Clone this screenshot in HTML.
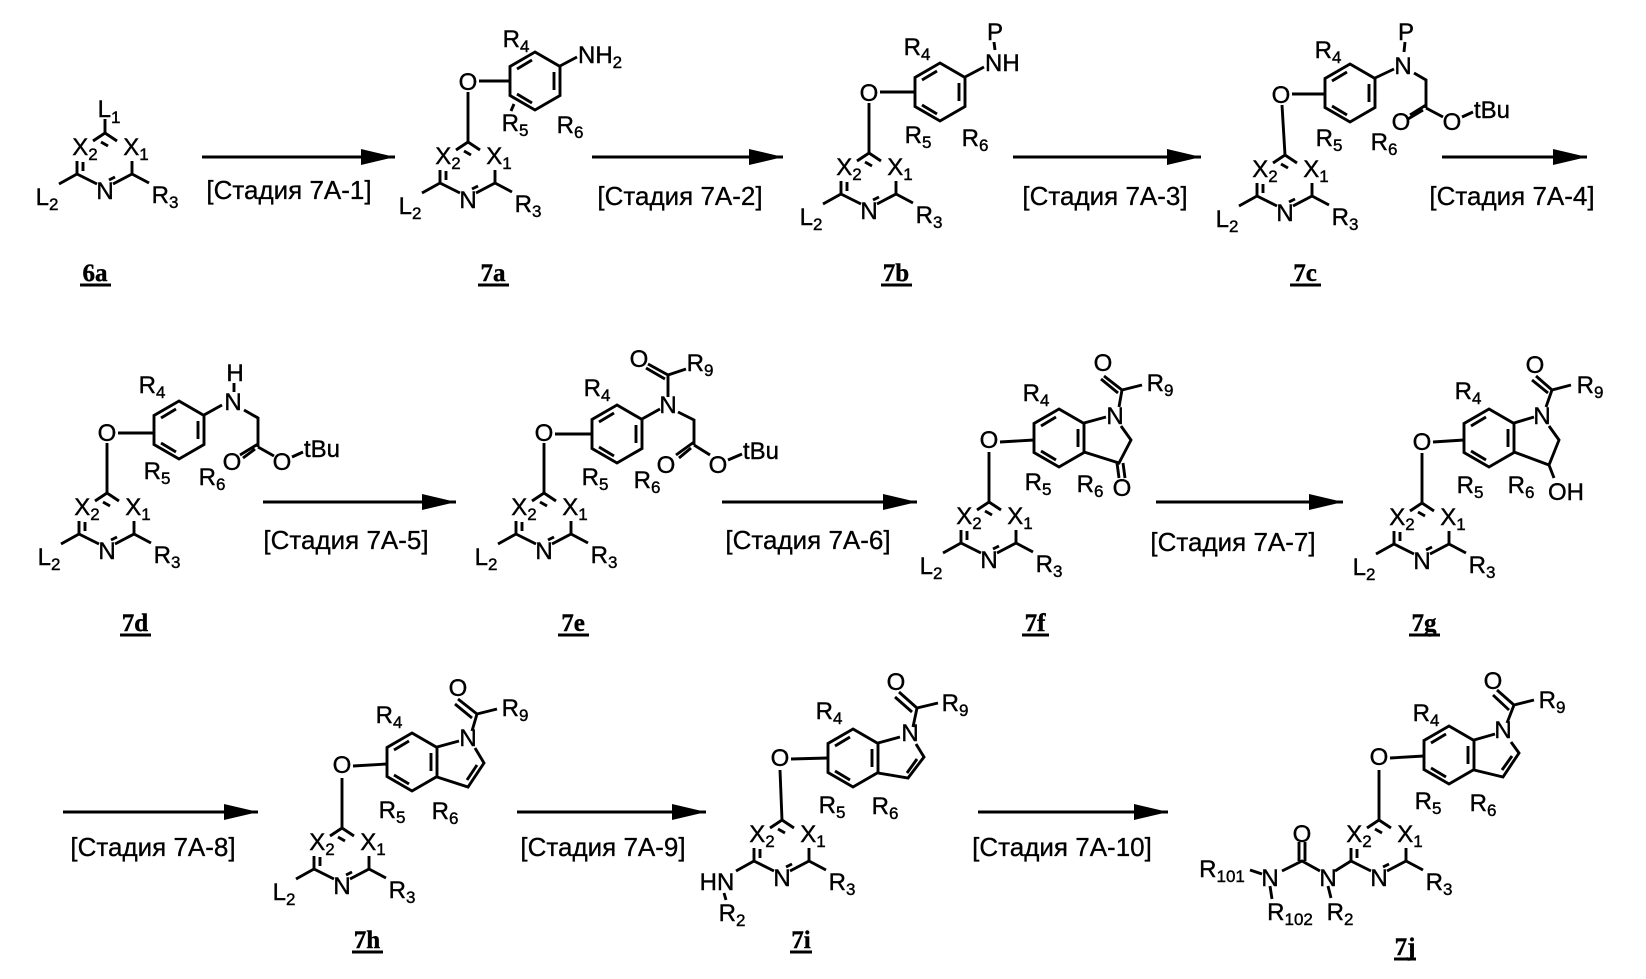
<!DOCTYPE html>
<html><head><meta charset="utf-8"><style>
html,body{margin:0;padding:0;background:#fff}
svg{display:block}
text{font-family:"Liberation Sans",Arial,sans-serif;font-size:24px;fill:#000;stroke:#000;stroke-width:0.4px}
tspan{font-size:17px}
.st{font-size:26px;stroke-width:0.3px}
.cl{font-family:"Liberation Serif",serif;font-weight:bold;font-size:25px}
.a{text-anchor:middle}
path,line{stroke-width:2.9px}
</style></head><body>
<svg width="1646" height="979" viewBox="0 0 1646 979" xmlns="http://www.w3.org/2000/svg">
<defs>
<g id="pyr" fill="none" stroke="#000" stroke-width="2.4">
<path d="M-12,8 L0,0 L12,8 M-28,28 L-28,41 L-8,51 M8,51 L27,41 L27,28 M-4,9 L3,13 M-22,29 L-22,38 M4,47 L10,44"/>
</g>
<g id="pyrL" fill="none" stroke="#000" stroke-width="2.4"><path d="M-28,41 L-46,51 M27,41 L44,50"/></g>
<g id="bz" fill="none" stroke="#000" stroke-width="2.4">
<path d="M0,-29 L25,-14.5 L25,14.5 L0,29 L-25,14.5 L-25,-14.5 Z M19,-9 L19,9 M-3,22 L-18,13 M-18,-12 L-3,-21"/>
</g>
<g id="arr"><line x1="0" y1="0" x2="-30" y2="0" stroke="#000" stroke-width="2.6"/><path d="M0,0 L-34,-8 L-34,8 Z" fill="#000"/></g>
</defs>

<!-- arrows -->
<g stroke="#000" stroke-width="2.6">
<line x1="202" y1="157" x2="370" y2="157"/><line x1="592" y1="157" x2="760" y2="157"/>
<line x1="1013" y1="157" x2="1175" y2="157"/><line x1="1442" y1="157" x2="1560" y2="157"/>
<line x1="263" y1="502" x2="430" y2="502"/><line x1="722" y1="502" x2="892" y2="502"/>
<line x1="1156" y1="502" x2="1318" y2="502"/>
<line x1="63" y1="812" x2="232" y2="812"/><line x1="517" y1="812" x2="680" y2="812"/>
<line x1="978" y1="812" x2="1142" y2="812"/>
</g>
<use href="#arr" x="395" y="157"/><use href="#arr" x="783" y="157"/><use href="#arr" x="1201" y="157"/><use href="#arr" x="1587" y="157"/>
<use href="#arr" x="456" y="502"/><use href="#arr" x="917" y="502"/><use href="#arr" x="1343" y="502"/>
<use href="#arr" x="258" y="812"/><use href="#arr" x="706" y="812"/><use href="#arr" x="1168" y="812"/>

<text class="st a" x="289" y="199">[Стадия 7A-1]</text>
<text class="st a" x="680" y="205">[Стадия 7A-2]</text>
<text class="st a" x="1105" y="205">[Стадия 7A-3]</text>
<text class="st a" x="1512" y="205">[Стадия 7A-4]</text>
<text class="st a" x="346" y="549">[Стадия 7A-5]</text>
<text class="st a" x="808" y="549">[Стадия 7A-6]</text>
<text class="st a" x="1233" y="551">[Стадия 7A-7]</text>
<text class="st a" x="153" y="856">[Стадия 7A-8]</text>
<text class="st a" x="603" y="856">[Стадия 7A-9]</text>
<text class="st a" x="1062" y="856">[Стадия 7A-10]</text>

<!-- compound labels -->
<g class="cl">
<text class="cl a" x="95" y="281">6a</text><text class="cl a" x="493" y="281">7a</text>
<text class="cl a" x="896" y="281">7b</text><text class="cl a" x="1305" y="281">7c</text>
<text class="cl a" x="135" y="631">7d</text><text class="cl a" x="573" y="631">7e</text>
<text class="cl a" x="1035" y="631">7f</text><text class="cl a" x="1424" y="631">7g</text>
<text class="cl a" x="367" y="948">7h</text><text class="cl a" x="801" y="948">7i</text>
<text class="cl a" x="1405" y="955">7j</text>
</g>
<g stroke="#000" stroke-width="2.2">
<line x1="80" y1="285" x2="111" y2="285"/><line x1="478" y1="285" x2="509" y2="285"/>
<line x1="881" y1="285" x2="912" y2="285"/><line x1="1290" y1="285" x2="1321" y2="285"/>
<line x1="120" y1="635" x2="151" y2="635"/><line x1="558" y1="635" x2="589" y2="635"/>
<line x1="1022" y1="635" x2="1049" y2="635"/><line x1="1409" y1="635" x2="1440" y2="635"/>
<line x1="352" y1="952" x2="383" y2="952"/><line x1="790" y1="952" x2="812" y2="952"/>
<line x1="1394" y1="959" x2="1416" y2="959"/>
</g>

<!-- pyrimidine rings -->
<g transform="translate(105,133)"><use href="#pyr"/><use href="#pyrL"/>
<line x1="0" y1="0" x2="0" y2="-14" stroke="#000" stroke-width="2.4"/>
<text class="a" x="4" y="-16">L<tspan font-size="14" dy="6">1</tspan></text></g>

<g transform="translate(468,142)"><use href="#pyr"/><use href="#pyrL"/><line x1="0" y1="0" x2="0" y2="-50" stroke="#000" stroke-width="2.4"/>
<text class="a" x="-20" y="22">X<tspan font-size="15" dy="5">2</tspan></text><text class="a" x="31" y="22">X<tspan font-size="15" dy="5">1</tspan></text>
<text class="a" x="0" y="66">N</text><text class="a" x="-58" y="72">L<tspan font-size="15" dy="5">2</tspan></text><text class="a" x="60" y="70">R<tspan font-size="15" dy="5">3</tspan></text></g>

<g transform="translate(105,133)">
<text class="a" x="-20" y="22">X<tspan font-size="15" dy="5">2</tspan></text><text class="a" x="31" y="22">X<tspan font-size="15" dy="5">1</tspan></text>
<text class="a" x="0" y="66">N</text><text class="a" x="-58" y="72">L<tspan font-size="15" dy="5">2</tspan></text><text class="a" x="60" y="70">R<tspan font-size="15" dy="5">3</tspan></text></g>

<g transform="translate(869,153)"><use href="#pyr"/><use href="#pyrL"/><line x1="0" y1="0" x2="0" y2="-50" stroke="#000" stroke-width="2.4"/>
<text class="a" x="-20" y="22">X<tspan font-size="15" dy="5">2</tspan></text><text class="a" x="31" y="22">X<tspan font-size="15" dy="5">1</tspan></text>
<text class="a" x="0" y="66">N</text><text class="a" x="-58" y="72">L<tspan font-size="15" dy="5">2</tspan></text><text class="a" x="60" y="70">R<tspan font-size="15" dy="5">3</tspan></text></g>

<g transform="translate(1285,155)"><use href="#pyr"/><use href="#pyrL"/><line x1="0" y1="0" x2="-3" y2="-50" stroke="#000" stroke-width="2.4"/>
<text class="a" x="-20" y="22">X<tspan font-size="15" dy="5">2</tspan></text><text class="a" x="31" y="22">X<tspan font-size="15" dy="5">1</tspan></text>
<text class="a" x="0" y="66">N</text><text class="a" x="-58" y="72">L<tspan font-size="15" dy="5">2</tspan></text><text class="a" x="60" y="70">R<tspan font-size="15" dy="5">3</tspan></text></g>

<g transform="translate(107,493)"><use href="#pyr"/><use href="#pyrL"/><line x1="0" y1="0" x2="0" y2="-50" stroke="#000" stroke-width="2.4"/>
<text class="a" x="-20" y="22">X<tspan font-size="15" dy="5">2</tspan></text><text class="a" x="31" y="22">X<tspan font-size="15" dy="5">1</tspan></text>
<text class="a" x="0" y="66">N</text><text class="a" x="-58" y="72">L<tspan font-size="15" dy="5">2</tspan></text><text class="a" x="60" y="70">R<tspan font-size="15" dy="5">3</tspan></text></g>

<g transform="translate(544,493)"><use href="#pyr"/><use href="#pyrL"/><line x1="0" y1="0" x2="0" y2="-50" stroke="#000" stroke-width="2.4"/>
<text class="a" x="-20" y="22">X<tspan font-size="15" dy="5">2</tspan></text><text class="a" x="31" y="22">X<tspan font-size="15" dy="5">1</tspan></text>
<text class="a" x="0" y="66">N</text><text class="a" x="-58" y="72">L<tspan font-size="15" dy="5">2</tspan></text><text class="a" x="60" y="70">R<tspan font-size="15" dy="5">3</tspan></text></g>

<g transform="translate(989,502)"><use href="#pyr"/><use href="#pyrL"/><line x1="0" y1="0" x2="0" y2="-50" stroke="#000" stroke-width="2.4"/>
<text class="a" x="-20" y="22">X<tspan font-size="15" dy="5">2</tspan></text><text class="a" x="31" y="22">X<tspan font-size="15" dy="5">1</tspan></text>
<text class="a" x="0" y="66">N</text><text class="a" x="-58" y="72">L<tspan font-size="15" dy="5">2</tspan></text><text class="a" x="60" y="70">R<tspan font-size="15" dy="5">3</tspan></text></g>

<g transform="translate(1422,503)"><use href="#pyr"/><use href="#pyrL"/><line x1="0" y1="0" x2="0" y2="-50" stroke="#000" stroke-width="2.4"/>
<text class="a" x="-20" y="22">X<tspan font-size="15" dy="5">2</tspan></text><text class="a" x="31" y="22">X<tspan font-size="15" dy="5">1</tspan></text>
<text class="a" x="0" y="66">N</text><text class="a" x="-58" y="72">L<tspan font-size="15" dy="5">2</tspan></text><text class="a" x="60" y="70">R<tspan font-size="15" dy="5">3</tspan></text></g>

<g transform="translate(342,828)"><use href="#pyr"/><use href="#pyrL"/><line x1="0" y1="0" x2="0" y2="-50" stroke="#000" stroke-width="2.4"/>
<text class="a" x="-20" y="22">X<tspan font-size="15" dy="5">2</tspan></text><text class="a" x="31" y="22">X<tspan font-size="15" dy="5">1</tspan></text>
<text class="a" x="0" y="66">N</text><text class="a" x="-58" y="72">L<tspan font-size="15" dy="5">2</tspan></text><text class="a" x="60" y="70">R<tspan font-size="15" dy="5">3</tspan></text></g>

<g transform="translate(782,820)"><use href="#pyr"/><use href="#pyrL"/><line x1="0" y1="0" x2="-2" y2="-50" stroke="#000" stroke-width="2.4"/>
<text class="a" x="-20" y="22">X<tspan font-size="15" dy="5">2</tspan></text><text class="a" x="31" y="22">X<tspan font-size="15" dy="5">1</tspan></text>
<text class="a" x="0" y="66">N</text><text class="a" x="60" y="70">R<tspan font-size="15" dy="5">3</tspan></text>
<text class="a" x="-65" y="70">HN</text><line x1="-58" y1="73" x2="-56" y2="80" stroke="#000" stroke-width="2.2"/>
<text class="a" x="-50" y="101">R<tspan font-size="15" dy="5">2</tspan></text></g>

<g transform="translate(1379,820)"><use href="#pyr"/><line x1="27" y1="41" x2="44" y2="50" stroke="#000" stroke-width="2.4"/><line x1="-28" y1="41" x2="-44" y2="51" stroke="#000" stroke-width="2.4"/>
<line x1="0" y1="0" x2="0" y2="-50" stroke="#000" stroke-width="2.4"/>
<text class="a" x="-20" y="22">X<tspan font-size="15" dy="5">2</tspan></text><text class="a" x="31" y="22">X<tspan font-size="15" dy="5">1</tspan></text>
<text class="a" x="0" y="66">N</text><text class="a" x="60" y="70">R<tspan font-size="15" dy="5">3</tspan></text></g>
<!-- 7j urea -->
<g stroke="#000" stroke-width="2.4" fill="none">
<path d="M1320,871 L1302,861 L1282,871 M1299,861 L1299,842 M1305,861 L1305,842 M1328,886 L1331,898 M1270,886 L1272,899 M1250,870 L1262,874"/>
</g>
<text class="a" x="1328" y="886">N</text><text class="a" x="1302" y="842">O</text><text class="a" x="1270" y="886">N</text>
<text class="a" x="1222" y="877">R<tspan font-size="15" dy="5">101</tspan></text>
<text class="a" x="1290" y="920">R<tspan font-size="15" dy="5">102</tspan></text>
<text class="a" x="1340" y="920">R<tspan font-size="15" dy="5">2</tspan></text>

<!-- 7a -->
<use href="#bz" x="535" y="81"/>
<text class="a" x="468" y="90">O</text>
<g stroke="#000" stroke-width="2.4"><line x1="479" y1="81" x2="510" y2="81"/><line x1="560" y1="66" x2="577" y2="57"/><line x1="514" y1="104" x2="511" y2="111"/></g>
<text x="578" y="63">NH<tspan font-size="15" dy="5">2</tspan></text>
<text class="a" x="516" y="47">R<tspan font-size="15" dy="5">4</tspan></text>
<text class="a" x="515" y="131">R<tspan font-size="15" dy="5">5</tspan></text>
<text class="a" x="570" y="133">R<tspan font-size="15" dy="5">6</tspan></text>

<!-- 7b -->
<use href="#bz" x="940" y="92"/>
<text class="a" x="869" y="101">O</text>
<g stroke="#000" stroke-width="2.4"><line x1="880" y1="92" x2="915" y2="92"/><line x1="965" y1="77" x2="984" y2="67"/><line x1="994" y1="42" x2="995" y2="50"/></g>
<text x="985" y="71">NH</text><text class="a" x="995" y="40">P</text>
<text class="a" x="917" y="55">R<tspan font-size="15" dy="5">4</tspan></text>
<text class="a" x="918" y="143">R<tspan font-size="15" dy="5">5</tspan></text>
<text class="a" x="975" y="146">R<tspan font-size="15" dy="5">6</tspan></text>

<!-- 7c -->
<use href="#bz" x="1350" y="93"/>
<text class="a" x="1281" y="103">O</text>
<g stroke="#000" stroke-width="2.4" fill="none"><path d="M1292,94 L1325,94 M1375,78 L1394,69 M1405,42 L1404,52 M1414,73 L1426,80 L1426,108 M1426,105 L1410,115 M1423,110 L1408,119 M1426,108 L1443,117 M1462,117 L1473,112"/></g>
<text class="a" x="1403" y="74">N</text><text class="a" x="1406" y="40">P</text>
<text class="a" x="1401" y="130">O</text><text class="a" x="1452" y="130">O</text>
<text x="1474" y="118">tBu</text>
<text class="a" x="1328" y="58">R<tspan font-size="15" dy="5">4</tspan></text>
<text class="a" x="1329" y="146">R<tspan font-size="15" dy="5">5</tspan></text>
<text class="a" x="1384" y="150">R<tspan font-size="15" dy="5">6</tspan></text>

<!-- 7d -->
<use href="#bz" x="179" y="430"/>
<text class="a" x="107" y="441">O</text>
<g stroke="#000" stroke-width="2.4" fill="none"><path d="M118,433 L154,433 M204,415 L222,405 M234,383 L234,392 M244,410 L258,418 L258,447 M258,444 L240,455 M255,449 L243,458 M258,447 L274,456 M292,457 L303,452"/></g>
<text class="a" x="233" y="410">N</text><text class="a" x="235" y="381">H</text>
<text class="a" x="232" y="470">O</text><text class="a" x="282" y="470">O</text>
<text x="304" y="457">tBu</text>
<text class="a" x="152" y="393">R<tspan font-size="15" dy="5">4</tspan></text>
<text class="a" x="157" y="479">R<tspan font-size="15" dy="5">5</tspan></text>
<text class="a" x="212" y="485">R<tspan font-size="15" dy="5">6</tspan></text>

<!-- 7e -->
<use href="#bz" x="617" y="434"/>
<text class="a" x="544" y="441">O</text>
<g stroke="#000" stroke-width="2.4" fill="none"><path d="M555,434 L592,434 M642,419 L660,409 M668,397 L668,375 M668,375 L648,364 M665,379 L646,368 M668,375 L686,369 M678,412 L694,420 L694,445 M694,442 L676,455 M691,448 L679,458 M694,445 L710,455 M728,460 L742,454"/></g>
<text class="a" x="668" y="413">N</text><text class="a" x="639" y="367">O</text>
<text class="a" x="700" y="371">R<tspan font-size="15" dy="5">9</tspan></text>
<text class="a" x="666" y="473">O</text><text class="a" x="718" y="473">O</text>
<text x="743" y="459">tBu</text>
<text class="a" x="597" y="396">R<tspan font-size="15" dy="5">4</tspan></text>
<text class="a" x="595" y="485">R<tspan font-size="15" dy="5">5</tspan></text>
<text class="a" x="647" y="488">R<tspan font-size="15" dy="5">6</tspan></text>

<!-- 7f -->
<use href="#bz" x="1059" y="438"/>
<text class="a" x="989" y="448">O</text>
<g stroke="#000" stroke-width="2.4" fill="none"><path d="M1000,442 L1034,440 M1084,423 L1106,417 M1119,407 L1122,390 L1104,376 M1118,393 L1101,379 M1122,390 L1142,385 M1121,426 L1131,440 L1119,463 L1084,452 M1117,463 L1119,478 M1123,463 L1125,478"/></g>
<text class="a" x="1115" y="424">N</text><text class="a" x="1103" y="371">O</text>
<text class="a" x="1160" y="391">R<tspan font-size="15" dy="5">9</tspan></text>
<text class="a" x="1122" y="496">O</text>
<text class="a" x="1036" y="401">R<tspan font-size="15" dy="5">4</tspan></text>
<text class="a" x="1038" y="490">R<tspan font-size="15" dy="5">5</tspan></text>
<text class="a" x="1090" y="492">R<tspan font-size="15" dy="5">6</tspan></text>

<!-- 7g -->
<use href="#bz" x="1489" y="438"/>
<text class="a" x="1422" y="450">O</text>
<g stroke="#000" stroke-width="2.4" fill="none"><path d="M1433,442 L1464,440 M1514,423 L1534,417 M1546,407 L1552,390 L1536,376 M1548,393 L1532,380 M1552,390 L1571,385 M1549,426 L1559,440 L1549,465 L1514,452 M1549,465 L1554,478"/></g>
<text class="a" x="1542" y="424">N</text><text class="a" x="1535" y="373">O</text>
<text class="a" x="1590" y="393">R<tspan font-size="15" dy="5">9</tspan></text>
<text class="a" x="1566" y="500">OH</text>
<text class="a" x="1468" y="399">R<tspan font-size="15" dy="5">4</tspan></text>
<text class="a" x="1470" y="493">R<tspan font-size="15" dy="5">5</tspan></text>
<text class="a" x="1521" y="493">R<tspan font-size="15" dy="5">6</tspan></text>

<!-- indoles 7h, 7i, 7j -->
<use href="#bz" x="412" y="762"/>
<text class="a" x="342" y="773">O</text>
<g stroke="#000" stroke-width="2.4" fill="none"><path d="M353,766 L387,764 M437,747 L459,741 M472,731 L477,714 L458,699 M472,718 L455,704 M477,714 L497,709 M475,748 L484,763 L468,787 L437,777 M477,765 L467,780"/></g>
<text class="a" x="468" y="746">N</text><text class="a" x="458" y="696">O</text>
<text class="a" x="515" y="716">R<tspan font-size="15" dy="5">9</tspan></text>
<text class="a" x="389" y="723">R<tspan font-size="15" dy="5">4</tspan></text>
<text class="a" x="392" y="818">R<tspan font-size="15" dy="5">5</tspan></text>
<text class="a" x="445" y="819">R<tspan font-size="15" dy="5">6</tspan></text>

<use href="#bz" x="853" y="758"/>
<text class="a" x="780" y="766">O</text>
<g stroke="#000" stroke-width="2.4" fill="none"><path d="M791,759 L828,758 M878,743 L900,737 M913,727 L917,708 L899,692 M912,712 L895,697 M917,708 L938,703 M916,744 L924,757 L908,778 L878,773 M917,759 L907,773"/></g>
<text class="a" x="910" y="741">N</text><text class="a" x="896" y="690">O</text>
<text class="a" x="955" y="711">R<tspan font-size="15" dy="5">9</tspan></text>
<text class="a" x="829" y="719">R<tspan font-size="15" dy="5">4</tspan></text>
<text class="a" x="832" y="813">R<tspan font-size="15" dy="5">5</tspan></text>
<text class="a" x="885" y="814">R<tspan font-size="15" dy="5">6</tspan></text>

<use href="#bz" x="1449" y="755"/>
<text class="a" x="1379" y="765">O</text>
<g stroke="#000" stroke-width="2.4" fill="none"><path d="M1390,758 L1424,756 M1474,740 L1495,734 M1507,723 L1514,705 L1497,690 M1509,710 L1493,695 M1514,705 L1534,700 M1511,742 L1519,753 L1503,777 L1474,770 M1512,756 L1502,770"/></g>
<text class="a" x="1503" y="738">N</text><text class="a" x="1493" y="689">O</text>
<text class="a" x="1552" y="708">R<tspan font-size="15" dy="5">9</tspan></text>
<text class="a" x="1426" y="721">R<tspan font-size="15" dy="5">4</tspan></text>
<text class="a" x="1428" y="809">R<tspan font-size="15" dy="5">5</tspan></text>
<text class="a" x="1483" y="811">R<tspan font-size="15" dy="5">6</tspan></text>
</svg>
</body></html>
